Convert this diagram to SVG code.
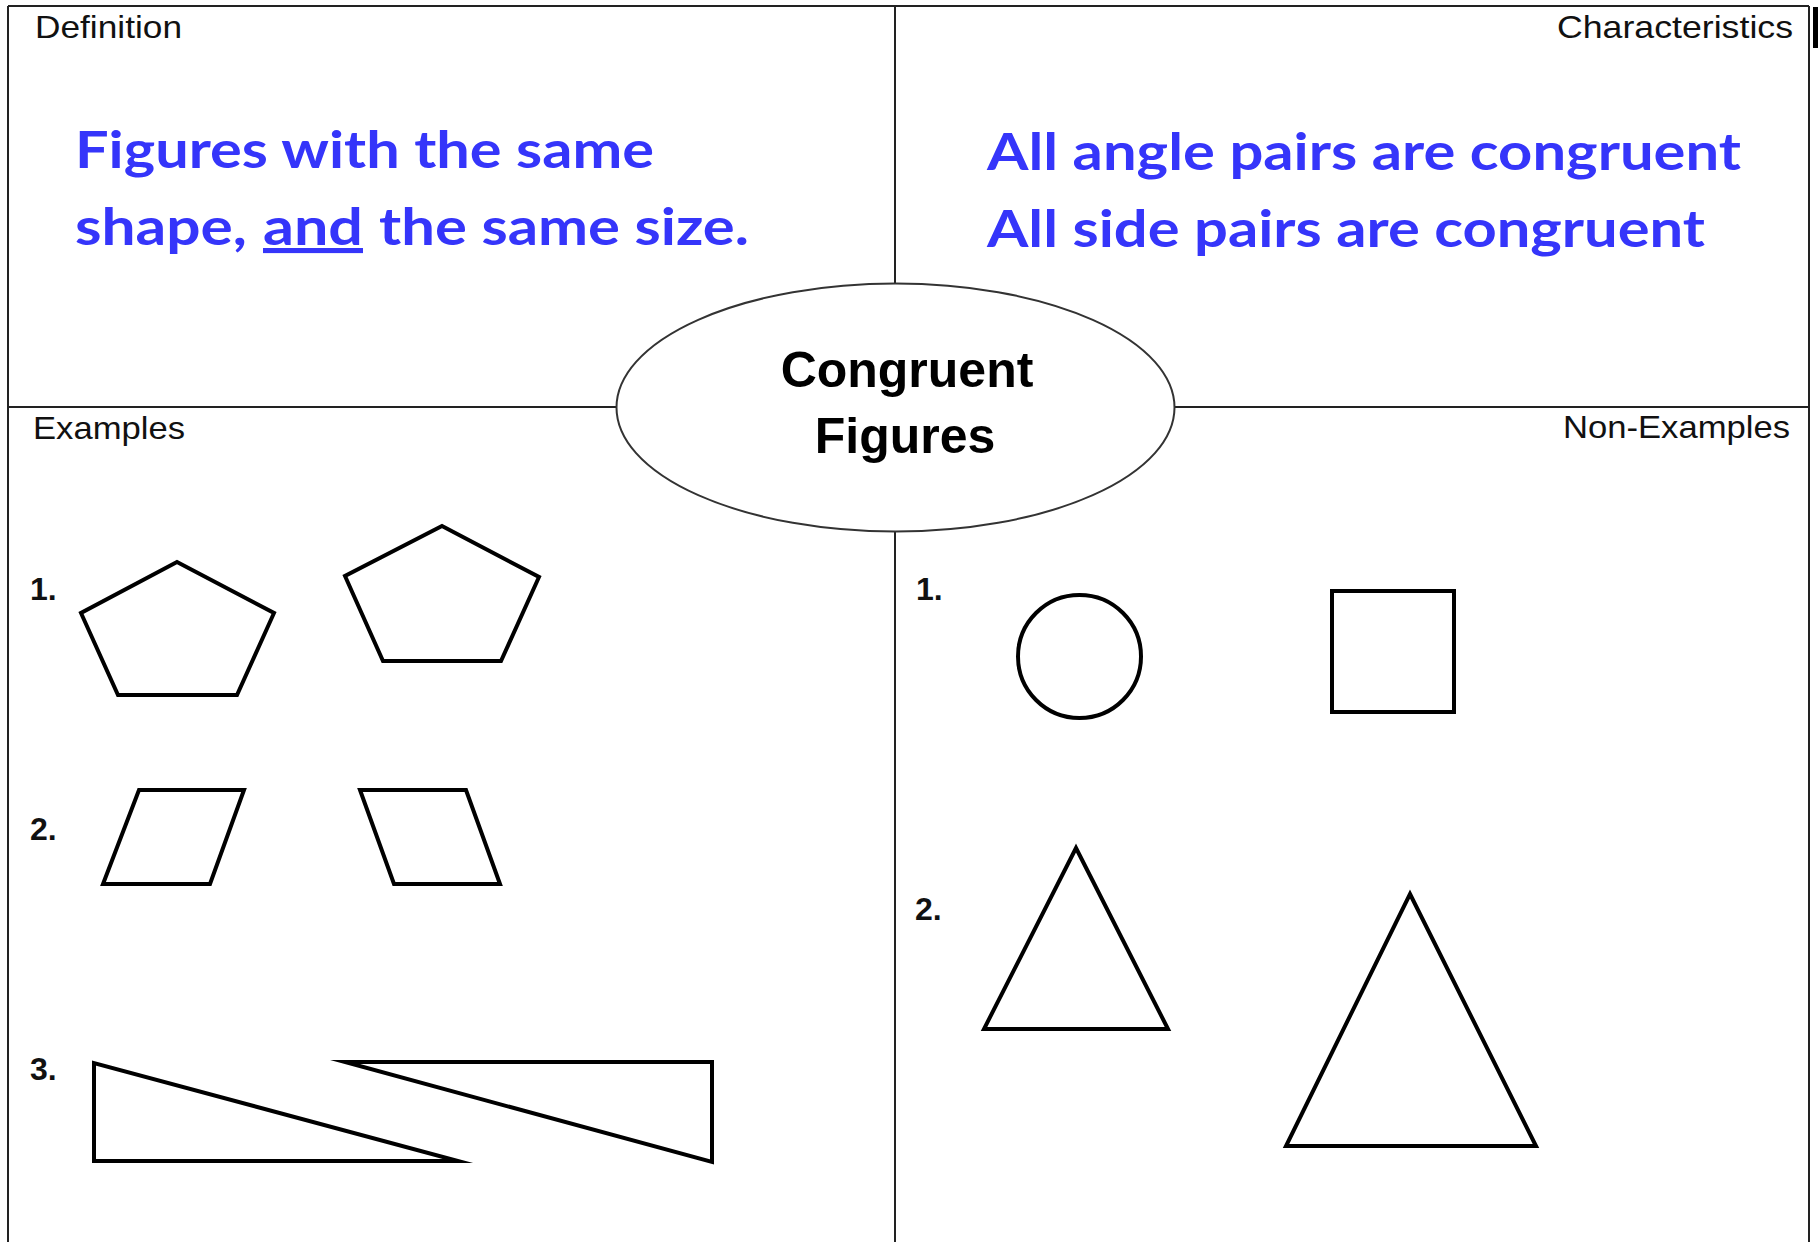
<svg xmlns="http://www.w3.org/2000/svg" width="1818" height="1242" viewBox="0 0 1818 1242">
<style>
.line{stroke:#222;stroke-width:2;fill:none}
.lbl{font-family:"Liberation Sans",Arial,sans-serif;font-size:32px;fill:#111}
.num{font-family:"Liberation Sans",Arial,sans-serif;font-size:32px;font-weight:bold;fill:#111}
.blue{font-family:Lato,"Liberation Sans",sans-serif;font-size:51px;font-weight:bold;fill:#3535FA}
.title{font-family:"Liberation Sans",Arial,sans-serif;font-size:50px;font-weight:bold;fill:#000;text-anchor:middle}
.shape{stroke:#000;stroke-width:4;fill:none;stroke-linejoin:miter;stroke-miterlimit:10}
</style>
<rect width="1818" height="1242" fill="#fff"/>
<g id="frame">
<line class="line" x1="8" y1="6" x2="1809" y2="6"/>
<line class="line" x1="8" y1="6" x2="8" y2="1242"/>
<line class="line" x1="1809" y1="6" x2="1809" y2="1242"/>
<line class="line" x1="8" y1="407" x2="1809" y2="407"/>
<line class="line" x1="895" y1="6" x2="895" y2="1242"/>
<rect x="1813" y="7" width="5" height="41" fill="#000"/>
</g>
<g id="definition">
<text class="lbl" x="35" y="38" textLength="147" lengthAdjust="spacingAndGlyphs">Definition</text>
<text class="blue" x="75" y="168" textLength="579" lengthAdjust="spacingAndGlyphs">Figures with the same</text>
<text class="blue" x="75" y="245" textLength="172" lengthAdjust="spacingAndGlyphs">shape,</text>
<text class="blue" x="263" y="245" textLength="100" lengthAdjust="spacingAndGlyphs" text-decoration="underline">and</text>
<text class="blue" x="379" y="245" textLength="370" lengthAdjust="spacingAndGlyphs">the same size.</text>
</g>
<g id="characteristics">
<text class="lbl" x="1557" y="38" textLength="236" lengthAdjust="spacingAndGlyphs">Characteristics</text>
<text class="blue" x="987" y="170" textLength="754" lengthAdjust="spacingAndGlyphs">All angle pairs are congruent</text>
<text class="blue" x="987" y="247" textLength="718" lengthAdjust="spacingAndGlyphs">All side pairs are congruent</text>
</g>
<g id="center">
<ellipse cx="895.5" cy="407.5" rx="279" ry="124" fill="#fff" stroke="#333" stroke-width="2"/>
<text class="title" x="907" y="387">Congruent</text>
<text class="title" x="905" y="453">Figures</text>
</g>
<g id="examples">
<text class="lbl" x="33" y="439" textLength="152" lengthAdjust="spacingAndGlyphs">Examples</text>
<text class="num" x="30" y="600">1.</text>
<polygon class="shape" points="177,562 274,613 237,695 118,695 81,613"/>
<polygon class="shape" points="442,526 539,577 501,661 383,661 345,576"/>
<text class="num" x="30" y="840">2.</text>
<polygon class="shape" points="139,790 244,790 210,884 103,884"/>
<polygon class="shape" points="360,790 466,790 500,884 394,884"/>
<text class="num" x="30" y="1080">3.</text>
<polygon class="shape" points="94,1063 94,1161 458,1161"/>
<polygon class="shape" points="345,1062 712,1062 712,1162"/>
</g>
<g id="non-examples">
<text class="lbl" x="1563" y="438" textLength="227" lengthAdjust="spacingAndGlyphs">Non-Examples</text>
<text class="num" x="916" y="600">1.</text>
<circle class="shape" cx="1079.5" cy="656.5" r="61.5"/>
<rect class="shape" x="1332" y="591" width="122" height="121"/>
<text class="num" x="915" y="920">2.</text>
<polygon class="shape" points="1076,848 1168,1029 984,1029"/>
<polygon class="shape" points="1410,894 1536,1146 1286,1146"/>
</g>
</svg>
